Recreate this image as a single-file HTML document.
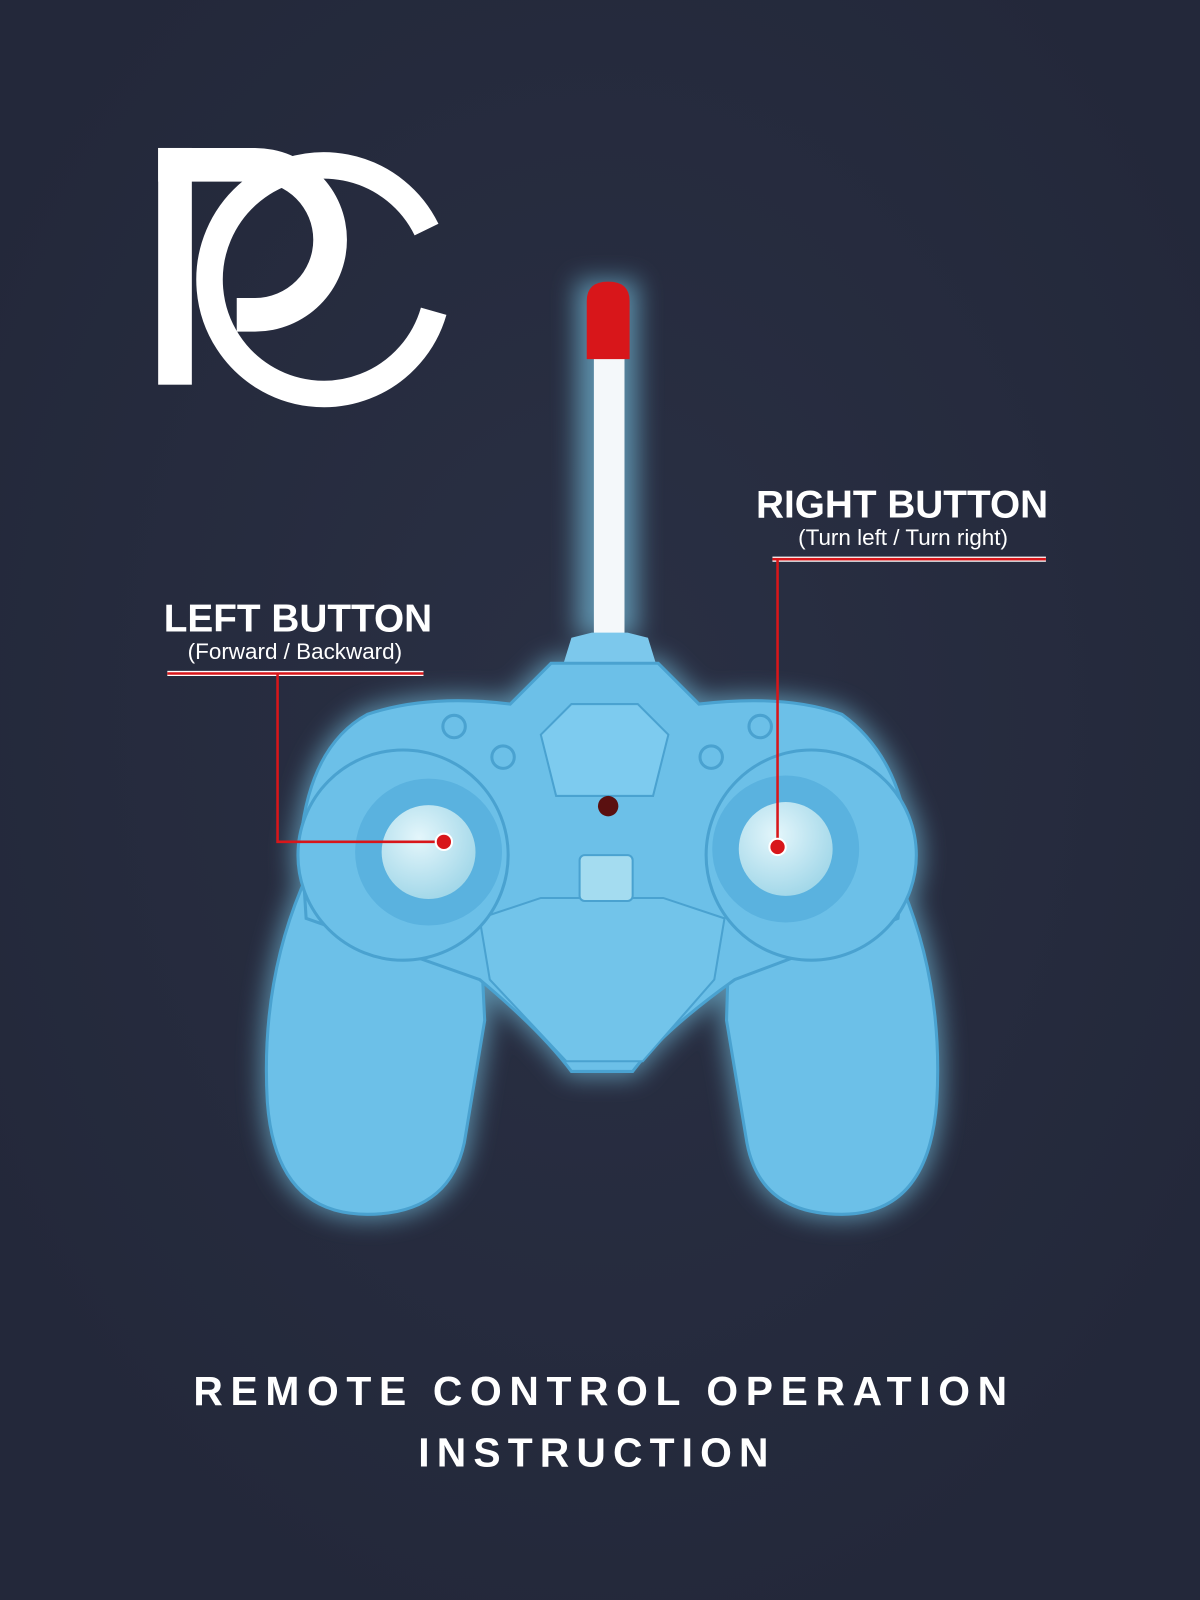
<!DOCTYPE html>
<html><head><meta charset="utf-8"><style>
html,body{margin:0;padding:0;background:#252a3c;}
svg{display:block}
</style></head><body>
<svg width="1200" height="1600" viewBox="0 0 1176 1568" xmlns="http://www.w3.org/2000/svg">
<defs>
<filter id="glow" x="-30%" y="-30%" width="160%" height="160%"><feGaussianBlur stdDeviation="12"/></filter>
<radialGradient id="bg" cx="50%" cy="45%" r="60%"><stop offset="0" stop-color="#2a3044"/><stop offset="1" stop-color="#23283a"/></radialGradient>
<radialGradient id="stick" cx="40%" cy="35%" r="70%"><stop offset="0" stop-color="#e4f6fb"/><stop offset="1" stop-color="#9fd6e8"/></radialGradient>
<g id="body">
<path d="M300 860 Q255 960 262 1080 Q270 1190 360 1190 Q440 1190 455 1120 L475 1000 L470 900 Z"/>
<path d="M880 860 Q925 960 918 1080 Q910 1190 825 1190 Q745 1190 732 1120 L712 1000 L715 900 Z"/>
<path d="M360 700 Q420 680 500 690 L540 650 H645 L685 690 Q770 680 825 700 Q880 740 890 820 L880 900 L720 960 Q650 1010 620 1050 H560 Q530 1010 470 960 L300 900 L295 820 Q305 730 360 700 Z"/>
<circle cx="395" cy="838" r="103"/>
<circle cx="795" cy="838" r="103"/>
</g>
</defs>
<rect width="1176" height="1568" fill="url(#bg)"/>
<!-- logo -->
<g fill="#fff">
<rect x="155" y="145" width="33" height="232"/>
<path d="M155 145 H250 A90 90 0 0 1 250 325 H232 V292 H250 A57 57 0 0 0 250 178 H155 Z"/>
</g>
<path d="M418 225 A112 112 0 1 0 425 305" fill="none" stroke="#fff" stroke-width="26"/>
<!-- glow -->
<g filter="url(#glow)" opacity="0.6" fill="#7fd0f0" stroke="#7fd0f0" stroke-width="10">
<use href="#body"/>
<rect x="570" y="280" width="50" height="340"/>
</g>
<!-- antenna -->
<rect x="582" y="345" width="30" height="280" fill="#f4f8fa"/>
<path d="M575 352 V295 Q575 276 596 276 Q617 276 617 295 V352 Z" fill="#d8161a"/>
<path d="M560 625 L580 620 H615 L635 625 L655 690 H540 Z" fill="#7cc8ec"/>
<!-- controller body -->
<g fill="#6cc0e8" stroke="#4aa2d0" stroke-width="3">
<path d="M300 860 Q255 960 262 1080 Q270 1190 360 1190 Q440 1190 455 1120 L475 1000 L470 900 Z"/>
<path d="M880 860 Q925 960 918 1080 Q910 1190 825 1190 Q745 1190 732 1120 L712 1000 L715 900 Z"/>
<path d="M360 700 Q420 680 500 690 L540 650 H645 L685 690 Q770 680 825 700 Q880 740 890 820 L880 900 L720 960 Q650 1010 620 1050 H560 Q530 1010 470 960 L300 900 L295 820 Q305 730 360 700 Z"/>
</g>
<path d="M530 720 L560 690 H625 L655 720 L640 780 H545 Z" fill="#7dcbef" stroke="#4aa2d0" stroke-width="2"/>
<path d="M470 900 L530 880 H650 L710 900 L700 960 L630 1040 H555 L480 960 Z" fill="#72c4ea" stroke="#4aa2d0" stroke-width="2"/>
<rect x="568" y="838" width="52" height="45" rx="5" fill="#a4dcf0" stroke="#4aa2d0" stroke-width="2"/>
<circle cx="596" cy="790" r="10" fill="#5a1010"/>
<circle cx="445" cy="712" r="11" fill="none" stroke="#4aa2d0" stroke-width="3"/>
<circle cx="493" cy="742" r="11" fill="none" stroke="#4aa2d0" stroke-width="3"/>
<circle cx="745" cy="712" r="11" fill="none" stroke="#4aa2d0" stroke-width="3"/>
<circle cx="697" cy="742" r="11" fill="none" stroke="#4aa2d0" stroke-width="3"/>
<!-- sticks -->
<circle cx="395" cy="838" r="103" fill="#6cc0e8" stroke="#4aa2d0" stroke-width="3"/>
<circle cx="420" cy="835" r="72" fill="#5ab2df"/>
<circle cx="420" cy="835" r="46" fill="url(#stick)"/>
<circle cx="795" cy="838" r="103" fill="#6cc0e8" stroke="#4aa2d0" stroke-width="3"/>
<circle cx="770" cy="832" r="72" fill="#5ab2df"/>
<circle cx="770" cy="832" r="46" fill="url(#stick)"/>
<!-- labels -->
<g font-family="Liberation Sans, sans-serif" fill="#fff" text-anchor="middle">
<text x="884" y="507" font-size="38" font-weight="bold">RIGHT BUTTON</text>
<text x="885" y="534" font-size="22">(Turn left / Turn right)</text>
<text x="292" y="619" font-size="38" font-weight="bold">LEFT BUTTON</text>
<text x="289" y="646" font-size="22">(Forward / Backward)</text>
<text x="592" y="1377" font-size="40" font-weight="bold" letter-spacing="7.5">REMOTE CONTROL OPERATION</text>
<text x="585" y="1437" font-size="40" font-weight="bold" letter-spacing="7">INSTRUCTION</text>
</g>
<g stroke="#fff" stroke-width="5" fill="none">
<path d="M757 548 H1025"/><path d="M164 660 H415"/>
</g>
<g stroke="#d8161a" stroke-width="2.5" fill="none">
<path d="M757 548 H1025"/><path d="M164 660 H415"/>
<path d="M762 548 V830"/><path d="M272 660 V825 H435"/>
</g>
<circle cx="435" cy="825" r="8" fill="#d8161a" stroke="#fff" stroke-width="2"/>
<circle cx="762" cy="830" r="8" fill="#d8161a" stroke="#fff" stroke-width="2"/>
</svg>
</body></html>
